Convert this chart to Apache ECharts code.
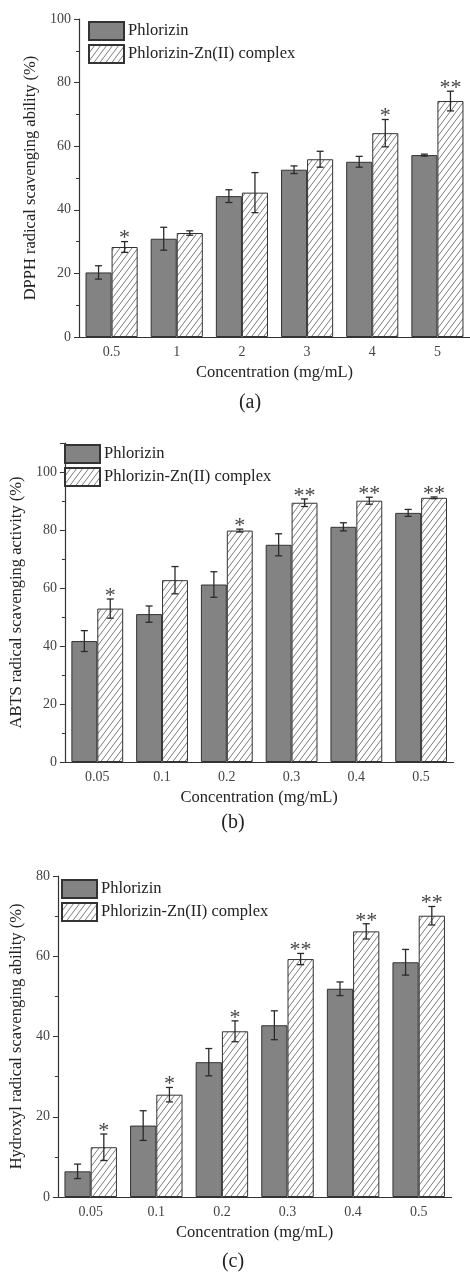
<!DOCTYPE html>
<html>
<head>
<meta charset="UTF-8">
<title>Phlorizin antioxidant activity</title>
<style>
  html, body { margin: 0; padding: 0; background: #fff; }
  #chart { width: 470px; height: 1273px; }
</style>
</head>
<body>
<div id="chart"></div>
<script src="https://cdn.jsdelivr.net/npm/echarts@6/dist/echarts.min.js"></script>
<script>
// categories
var concA = ['0.5', '1', '2', '3', '4', '5'];
var concB = ['0.05', '0.1', '0.2', '0.3', '0.4', '0.5'];
var concC = ['0.05', '0.1', '0.2', '0.3', '0.4', '0.5'];

// (a) DPPH
var dpphPhl = [20.3, 30.9, 44.3, 52.6, 55.1, 57.2];
var dpphPhlErr = [2.1, 3.6, 2.0, 1.2, 1.7, 0.3];
var dpphZn = [28.3, 32.7, 45.4, 55.9, 64.1, 74.2];
var dpphZnErr = [1.7, 0.7, 6.3, 2.5, 4.3, 3.1];
var dpphSig = ['*', '', '', '', '*', '**'];

// (b) ABTS
var abtsPhl = [41.7, 51.0, 61.2, 74.9, 81.1, 85.9];
var abtsPhlErr = [3.6, 2.8, 4.4, 3.8, 1.4, 1.2];
var abtsZn = [52.9, 62.7, 79.8, 89.4, 90.1, 91.1];
var abtsZnErr = [3.3, 4.7, 0.5, 1.3, 1.2, 0.3];
var abtsSig = ['*', '', '*', '**', '**', '**'];

// (c) hydroxyl
var ohPhl = [6.4, 17.8, 33.6, 42.8, 51.9, 58.5];
var ohPhlErr = [1.8, 3.7, 3.4, 3.6, 1.7, 3.2];
var ohZn = [12.4, 25.5, 41.3, 59.3, 66.2, 70.1];
var ohZnErr = [3.3, 1.8, 2.6, 1.4, 1.9, 2.3];
var ohSig = ['*', '*', '*', '**', '**', '**'];

var font = '"Liberation Serif", "Times New Roman", serif';

function hatch() {
  var c = document.createElement('canvas');
  c.width = 6; c.height = 8;
  var ctx = c.getContext('2d');
  ctx.fillStyle = '#fff';
  ctx.fillRect(0, 0, 6, 8);
  ctx.strokeStyle = '#7c7c7c';
  ctx.lineWidth = 1;
  ctx.beginPath();
  ctx.moveTo(0, 8); ctx.lineTo(6, 0);
  ctx.moveTo(-1, 1.33); ctx.lineTo(1, -1.33);
  ctx.moveTo(5, 9.33); ctx.lineTo(7, 6.67);
  ctx.stroke();
  return c;
}
var hatchImg = hatch();

function errSeries(name, axis, vals, errs, sig, side) {
  return {
    name: name + ' err',
    type: 'custom',
    xAxisIndex: axis * 2,
    yAxisIndex: axis,
    z: 5,
    silent: true,
    data: vals.map(function (v, k) { return [k, v, errs[k]]; }),
    renderItem: function (params, api) {
      var i = api.value(0), v = api.value(1), e = api.value(2);
      var band = api.size([1, 0])[0];
      var x = api.coord([i, v])[0] + side * band * 0.2;
      var yt = api.coord([i, v + e])[1];
      var yb = api.coord([i, v - e])[1];
      var w = 3.5;
      var st = { stroke: '#2a2a2a', lineWidth: 1.3 };
      var kids = [
        { type: 'line', shape: { x1: x, y1: yt, x2: x, y2: yb }, style: st },
        { type: 'line', shape: { x1: x - w, y1: yt, x2: x + w, y2: yt }, style: st },
        { type: 'line', shape: { x1: x - w, y1: yb, x2: x + w, y2: yb }, style: st }
      ];
      var s = sig ? sig[params.dataIndex] : '';
      if (s) {
        kids.push({
          type: 'text',
          style: {
            x: x, y: yt - 3, text: s, fill: '#444',
            font: '22px ' + font, align: 'center', verticalAlign: 'middle'
          }
        });
      }
      return { type: 'group', children: kids };
    }
  };
}

var nameGaps = [30, 31, 20];

function panel(idx, cats, yName, yMax, phl, phlErr, zn, znErr, sig) {
  var xMain = {
    type: 'category', gridIndex: idx, data: cats,
    axisLine: { lineStyle: { color: '#333', width: 1.2 } },
    axisTick: { alignWithLabel: true, length: 5, lineStyle: { color: '#333' } },
    axisLabel: { color: '#444', fontFamily: font, fontSize: 14, margin: 8 },
    name: 'Concentration (mg/mL)', nameLocation: 'middle', nameGap: 27,
    nameTextStyle: { color: '#222', fontFamily: font, fontSize: 16.5 }
  };
  var xMinor = {
    type: 'category', gridIndex: idx, data: cats,
    axisLine: { show: false },
    axisTick: { length: 3, lineStyle: { color: '#333' } },
    axisLabel: { show: false }
  };
  var y = {
    type: 'value', gridIndex: idx, min: 0, max: yMax, interval: 20,
    splitLine: { show: false },
    axisLine: { show: true, lineStyle: { color: '#333', width: 1.2 } },
    axisTick: { show: true, length: 5, lineStyle: { color: '#333' } },
    minorTick: { show: true, splitNumber: 2, length: 3, lineStyle: { color: '#333' } },
    axisLabel: { color: '#444', fontFamily: font, fontSize: 14, margin: 8,
      formatter: function (v) { return v % 20 === 0 ? v : ''; } },
    name: yName, nameLocation: 'middle', nameGap: nameGaps[idx],
    nameTextStyle: { color: '#222', fontFamily: font, fontSize: 16.5 }
  };
  var series = [
    {
      name: 'Phlorizin', type: 'bar', xAxisIndex: idx * 2, yAxisIndex: idx,
      data: phl, barGap: '0%', barCategoryGap: '20%',
      itemStyle: { color: '#838383', borderColor: '#333', borderWidth: 1 }
    },
    {
      name: 'Phlorizin-Zn(II) complex', type: 'bar', xAxisIndex: idx * 2, yAxisIndex: idx,
      data: zn, barGap: '0%', barCategoryGap: '20%',
      itemStyle: { color: { image: hatchImg, repeat: 'repeat' }, borderColor: '#333', borderWidth: 1 }
    },
    errSeries('Phlorizin', idx, phl, phlErr, null, -1),
    errSeries('Phlorizin-Zn(II) complex', idx, zn, znErr, sig, 1)
  ];
  return { x: [xMain, xMinor], y: y, series: series };
}

var panels = [
  panel(0, concA, 'DPPH radical scavenging ability (%)', 100, dpphPhl, dpphPhlErr, dpphZn, dpphZnErr, dpphSig),
  panel(1, concB, 'ABTS radical scavenging activity (%)', 110, abtsPhl, abtsPhlErr, abtsZn, abtsZnErr, abtsSig),
  panel(2, concC, 'Hydroxyl radical scavenging ability (%)', 80, ohPhl, ohPhlErr, ohZn, ohZnErr, ohSig)
];

var legendPos = [[88, 21], [64, 444], [61, 879]];
var labelPos = [[250, 403, '(a)'], [233, 823, '(b)'], [233, 1262, '(c)']];

var chart = echarts.init(document.getElementById('chart'));
var option = {
  animation: false,
  backgroundColor: '#fff',
  grid: [
    { left: 79, top: 19, width: 392, height: 318 },
    { left: 60.5, top: 443, width: 393, height: 319 },
    { left: 53.5, top: 876, width: 398, height: 321 }
  ],
  legend: legendPos.map(function (p) {
    return {
      orient: 'vertical', left: p[0], top: p[1], padding: 0,
      itemWidth: 35, itemHeight: 18, itemGap: 3, icon: 'rect',
      data: ['Phlorizin', 'Phlorizin-Zn(II) complex'],
      textStyle: { color: '#222', fontFamily: font, fontSize: 16.5, padding: [0, 0, 0, -1] }
    };
  }),
  xAxis: [].concat(panels[0].x, panels[1].x, panels[2].x),
  yAxis: panels.map(function (p) { return p.y; }),
  series: [].concat(panels[0].series, panels[1].series, panels[2].series),
  graphic: labelPos.map(function (p) {
    return {
      type: 'text', x: p[0], y: p[1],
      style: { text: p[2], fill: '#222', font: '20px ' + font, align: 'center', verticalAlign: 'middle' }
    };
  })
};
chart.setOption(option);
</script>
</body>
</html>
